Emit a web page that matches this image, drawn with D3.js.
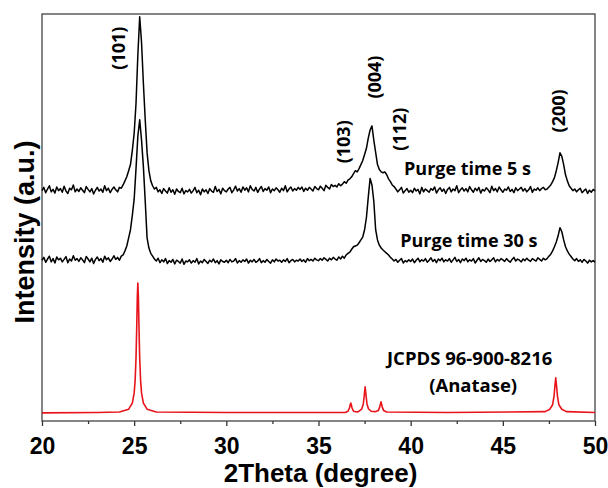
<!DOCTYPE html>
<html>
<head>
<meta charset="utf-8">
<script src="https://cdn.jsdelivr.net/npm/d3@7"></script>
<style>
  body { margin: 0; background: #fff; }
  .axis text { font-family: "Liberation Sans", Arial, sans-serif; font-weight: bold; font-size: 23px; fill: #000; }
  .axis line { stroke: #333; stroke-width: 1.3; }
  .lbl { font-family: "Open Sans", "Noto Sans", sans-serif; font-weight: bold; fill: #000; }
</style>
</head>
<body>
<svg width="608" height="488"></svg>
<script>
// plot box
var margin = {top: 14, right: 13, bottom: 67, left: 42};
var width = 608 - margin.left - margin.right;
var height = 488 - margin.top - margin.bottom;

// sampling grid of the measured patterns (2theta, degree)
var thetaStart = 20, thetaStep = 0.1;

// purge time 5 s, stacked intensity (a.u.), one value per 0.1 degree from 20 to 50
var purge5 = [
  566,574,561,570,578,563,569,560,575,566,
  571,562,577,565,559,572,568,580,563,570,
  564,573,567,561,576,569,563,571,558,567,
  574,565,570,562,578,566,572,561,569,575,
  568,563,574,572,580,590,600,615,630,665,
  707,780,900,993,930,830,740,660,615,590,
  578,570,574,563,568,559,571,565,560,573,
  562,568,557,570,564,561,572,558,566,563,
  569,560,566,574,561,567,556,570,563,568,
  559,571,565,562,576,564,569,558,572,566,
  563,570,574,561,568,577,565,571,562,575,
  567,573,563,578,569,565,574,562,570,576,
  564,571,567,575,561,570,566,573,568,562,
  572,566,578,563,570,575,565,571,567,574,
  569,575,564,572,567,574,570,565,576,571,
  568,577,572,566,579,574,570,581,576,579,
  575,583,578,582,588,584,592,595,600,608,
  615,612,620,630,640,655,670,695,715,725,
  690,660,630,618,612,610,612,605,595,588,
  580,576,570,563,568,574,560,566,571,562,
  567,561,572,565,569,558,574,563,570,566,
  562,571,567,575,560,568,573,564,570,559,
  569,574,563,570,566,578,561,568,573,565,
  571,563,576,568,562,572,566,574,560,569,
  565,573,568,561,577,566,571,563,575,568,
  562,570,567,575,564,569,561,573,566,570,
  574,565,571,563,568,576,562,570,567,573,
  566,571,574,568,570,575,580,588,598,615,
  635,659,650,630,605,590,578,572,566,570,
  563,568,572,561,566,570,559,567,562,569,
  565
];

// purge time 30 s, same grid
var purge30 = [
  395,402,390,398,405,391,399,388,403,396,
  400,391,397,404,389,398,393,406,395,399,
  392,401,396,389,404,398,391,400,387,397,
  403,394,399,390,405,396,401,392,398,406,
  397,402,395,405,408,418,430,450,470,505,
  545,620,700,740,690,625,540,450,425,412,
  405,398,393,400,389,396,391,399,387,394,
  390,397,386,395,392,388,398,385,393,391,
  396,388,394,390,399,386,393,389,397,392,
  387,395,391,398,389,394,386,396,392,390,
  395,389,397,391,393,399,388,394,390,396,
  392,398,388,395,391,397,390,393,399,389,
  394,390,397,392,388,396,391,398,393,395,
  390,396,392,399,389,394,397,391,395,393,
  398,392,396,390,399,394,397,393,400,396,
  394,399,395,401,397,393,400,396,402,398,
  395,403,398,405,400,408,412,415,422,428,
  430,432,438,445,452,470,500,550,596,580,
  540,470,445,432,425,420,416,412,408,402,
  398,393,397,390,395,399,388,394,391,396,
  392,398,389,395,400,391,396,393,399,390,
  395,401,392,397,389,398,394,400,391,396,
  393,399,390,396,402,392,397,389,398,394,
  400,391,396,393,399,388,395,401,392,397,
  394,390,398,392,396,401,391,397,393,399,
  396,392,399,394,390,397,402,393,398,395,
  391,398,394,400,395,392,399,396,393,401,
  397,393,400,396,399,405,410,418,428,440,
  455,475,465,445,428,418,410,404,398,394,
  399,392,396,390,397,393,388,395,391,394,
  390
];

// JCPDS 96-900-8216 reference pattern [2theta, intensity]
var jcpds = [
  [20,20],[23,21],[24.2,22],[24.7,29],[24.9,44],[25.0,69],[25.05,98],[25.1,154],[25.14,233],[25.17,304],
  [25.2,339],[25.23,304],[25.26,233],[25.3,154],[25.35,98],[25.4,69],[25.5,44],[25.7,29],[26.2,22],
  [30,21],[36.45,21],[36.6,24],[36.68,32],[36.72,40],[36.75,44],[36.78,40],[36.82,32],[36.9,24],[37.1,22],
  [37.2,24],[37.35,30],[37.43,42],[37.48,62],[37.53,84],[37.58,62],[37.63,42],[37.71,30],[37.85,24],
  [38.1,23],[38.25,26],[38.32,34],[38.36,42],[38.39,47],[38.42,42],[38.46,34],[38.53,26],[38.7,22],
  [42,21],[47.3,23],[47.55,29],[47.7,40],[47.78,62],[47.83,88],[47.87,106],[47.91,88],[47.96,62],
  [48.04,40],[48.2,29],[48.45,23],[50,21]
];

// axis ticks
var majorTicks = [20, 25, 30, 35, 40, 45, 50];
var minorTicks = [22.5, 27.5, 32.5, 37.5, 42.5, 47.5];

// peak labels [text, 2theta, intensity]
var hklLabels = [
  ["(101)", 24.12, 916],
  ["(103)", 36.32, 686],
  ["(004)", 38.01, 845],
  ["(112)", 39.37, 717],
  ["(200)", 47.98, 762]
];

// scales
var x = d3.scaleLinear().domain([20, 50]).range([0, width]);
var y = d3.scaleLinear().domain([0, 1000]).range([height, 0]);

var svg = d3.select("svg")
  .append("g")
  .attr("transform", "translate(" + margin.left + "," + margin.top + ")");

// turn a value list on the 0.1 degree grid into points
function toPoints(vals) {
  return vals.map(function(v, i) { return [thetaStart + i * thetaStep, v]; });
}

var line = d3.line()
  .x(function(d) { return x(d[0]); })
  .y(function(d) { return y(d[1]); });

// x axis, major + minor ticks
svg.append("g")
  .attr("class", "axis")
  .attr("transform", "translate(0," + height + ")")
  .call(d3.axisBottom(x).tickValues(majorTicks).tickSize(5).tickSizeOuter(0).tickPadding(12))
  .call(function(g) { g.select(".domain").remove(); });

svg.append("g")
  .attr("class", "axis")
  .attr("transform", "translate(0," + height + ")")
  .call(d3.axisBottom(x).tickValues(minorTicks).tickSize(3).tickFormat(""))
  .call(function(g) { g.select(".domain").remove(); });

// frame
svg.append("rect")
  .attr("width", width)
  .attr("height", height)
  .attr("fill", "none")
  .attr("stroke", "#444")
  .attr("stroke-width", 1.3);

// patterns
svg.append("path")
  .attr("d", line(jcpds))
  .attr("fill", "none")
  .attr("stroke", "#e8141b")
  .attr("stroke-width", 1.6)
  .attr("stroke-linejoin", "round");

[purge30, purge5].forEach(function(s) {
  svg.append("path")
    .attr("d", line(toPoints(s)))
    .attr("fill", "none")
    .attr("stroke", "#000")
    .attr("stroke-width", 1.5)
    .attr("stroke-linejoin", "round");
});

// hkl labels, rotated
svg.selectAll(".hkl")
  .data(hklLabels)
  .enter().append("text")
  .attr("class", "lbl hkl")
  .attr("font-size", 18)
  .attr("text-anchor", "middle")
  .attr("dominant-baseline", "central")
  .attr("transform", function(d) { return "translate(" + x(d[1]) + "," + y(d[2]) + ") rotate(-90)"; })
  .text(function(d) { return d[0]; });

// series labels
svg.append("text").attr("class", "lbl").attr("font-size", 18)
  .attr("x", x(39.64)).attr("y", y(604)).text("Purge time 5 s");
svg.append("text").attr("class", "lbl").attr("font-size", 18)
  .attr("x", x(39.43)).attr("y", y(428)).text("Purge time 30 s");
svg.append("text").attr("class", "lbl").attr("font-size", 18.5)
  .attr("text-anchor", "middle")
  .attr("x", x(43.2)).attr("y", y(138)).text("JCPDS 96-900-8216");
svg.append("text").attr("class", "lbl").attr("font-size", 18.5)
  .attr("text-anchor", "middle")
  .attr("x", x(43.39)).attr("y", y(72)).text("(Anatase)");

// axis titles
svg.append("text")
  .attr("x", width / 2 + 2)
  .attr("y", 482 - margin.top)
  .attr("text-anchor", "middle")
  .attr("font-family", "'Liberation Sans', Arial, sans-serif")
  .attr("font-weight", "bold")
  .attr("font-size", 26)
  .text("2Theta (degree)");

svg.append("text")
  .attr("transform", "translate(" + (34 - margin.left) + "," + (232 - margin.top) + ") rotate(-90)")
  .attr("text-anchor", "middle")
  .attr("font-family", "'Liberation Sans', Arial, sans-serif")
  .attr("font-weight", "bold")
  .attr("font-size", 27)
  .text("Intensity (a.u.)");
</script>
</body>
</html>
